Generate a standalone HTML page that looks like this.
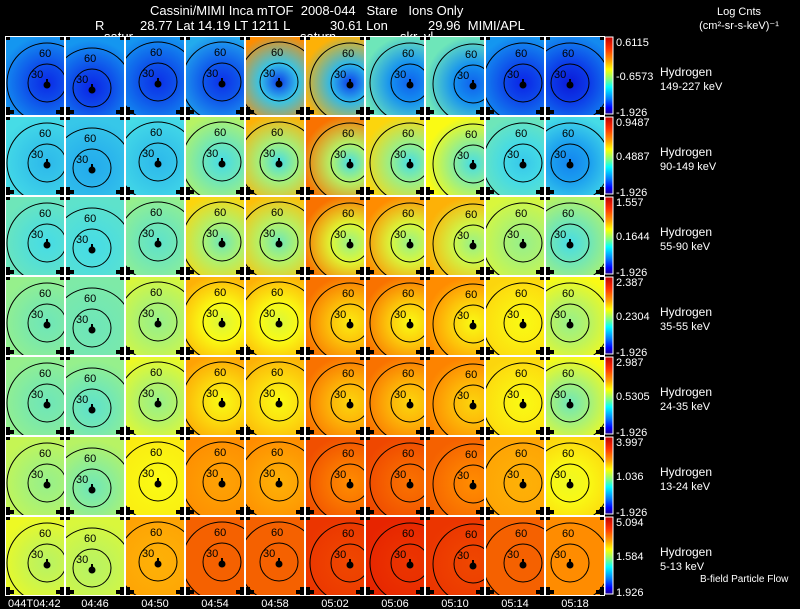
<!DOCTYPE html>
<html><head><meta charset="utf-8"><style>
html,body{margin:0;padding:0;background:#000;}
svg{display:block;font-family:"Liberation Sans",sans-serif;}
text{white-space:pre;}
</style></head><body>
<svg id="chart" width="800" height="609" viewBox="0 0 800 609" xmlns="http://www.w3.org/2000/svg">
<rect width="800" height="609" fill="#000"/>
<g fill="#fff" font-size="13">
<text x="150" y="15">Cassini/MIMI Inca mTOF  2008-044   Stare   Ions Only</text>
<text x="95" y="30">R</text>
<text x="140" y="30">28.77 Lat 14.19 LT 1211 L</text>
<text x="330" y="30">30.61 Lon</text>
<text x="428" y="30">29.96  MIMI/APL</text>
<text x="104" y="41">satur</text>
<text x="300" y="41">saturn</text>
<text x="400" y="41">skr..vl</text>
<text x="739" y="15" text-anchor="middle" font-size="11">Log Cnts</text>
<text x="739" y="29" text-anchor="middle" font-size="11">(cm²-sr-s-keV)⁻¹</text>
<text x="700" y="582" font-size="10">B-field Particle Flow</text>
</g>
<defs><linearGradient id="cbar" x1="0" y1="0" x2="0" y2="1">
<stop offset="0" stop-color="#c00000"/><stop offset="0.15" stop-color="#ff3000"/><stop offset="0.3" stop-color="#ff9a00"/><stop offset="0.42" stop-color="#ffff00"/><stop offset="0.55" stop-color="#80ff80"/><stop offset="0.65" stop-color="#00ffff"/><stop offset="0.8" stop-color="#0080ff"/><stop offset="0.92" stop-color="#0000ff"/><stop offset="1" stop-color="#200090"/>
</linearGradient></defs>
<g id="grid"></g>
</svg>
<script>
const centerVals=[
[0.17,0.16,0.18,0.18,0.2,0.2,0.26,0.26,0.16,0.13],
[0.4,0.38,0.4,0.45,0.45,0.45,0.45,0.45,0.42,0.32],
[0.45,0.45,0.48,0.5,0.5,0.55,0.55,0.55,0.55,0.45],
[0.5,0.5,0.55,0.65,0.65,0.72,0.7,0.7,0.7,0.55],
[0.5,0.48,0.55,0.7,0.7,0.75,0.75,0.75,0.7,0.5],
[0.55,0.5,0.7,0.82,0.8,0.85,0.88,0.85,0.8,0.68],
[0.6,0.6,0.8,0.9,0.9,0.93,0.95,0.93,0.9,0.85]];
const edgeVals=[
[0.35,0.35,0.35,0.38,0.85,0.8,0.5,0.5,0.35,0.33],
[0.45,0.42,0.45,0.6,0.8,0.88,0.75,0.7,0.5,0.45],
[0.5,0.48,0.55,0.75,0.78,0.88,0.85,0.8,0.65,0.6],
[0.55,0.52,0.65,0.8,0.8,0.88,0.88,0.85,0.75,0.7],
[0.55,0.55,0.68,0.82,0.8,0.88,0.88,0.86,0.75,0.7],
[0.62,0.6,0.72,0.85,0.85,0.92,0.93,0.9,0.82,0.75],
[0.68,0.65,0.82,0.9,0.9,0.95,0.97,0.95,0.9,0.85]];
const dotX=[42,27,33,37,34,45,45,48,38,25];
const dotY=[47,52,46,46,46,47,47,48,47,47];
const cbTop=["0.6115","0.9487","1.557","2.387","2.987","3.997","5.094"];
const cbMid=["-0.6573","0.4887","0.1644","0.2304","0.5305","1.036","1.584"];
const energies=["149-227 keV","90-149 keV","55-90 keV","35-55 keV","24-35 keV","13-24 keV","5-13 keV"];
const times=["044T04:42","04:46","04:50","04:54","04:58","05:02","05:06","05:10","05:14","05:18"];
const NS="http://www.w3.org/2000/svg";
const g=document.getElementById('grid');
const defs=document.querySelector('defs');
const X0=5,Y0=36,CW=60,RH=80;
const cx=c=>X0+c*CW, ry=r=>Y0+r*RH;
const stops=[[0,[20,0,120]],[0.15,[10,30,230]],[0.35,[20,150,240]],[0.45,[70,220,230]],[0.55,[150,240,140]],[0.7,[250,250,20]],[0.85,[255,140,0]],[1,[225,10,0]]];
function cmap(v){for(let i=1;i<stops.length;i++){if(v<=stops[i][0]){const a=stops[i-1],b=stops[i],t=(v-a[0])/(b[0]-a[0]);return 'rgb('+a[1].map((x,k)=>Math.round(x+(b[1][k]-x)*t)).join(',')+')';}}return 'rgb(225,10,0)';}
function el(t,a,p){const e=document.createElementNS(NS,t);for(const k in a)e.setAttribute(k,a[k]);(p||g).appendChild(e);return e;}
for(let r=0;r<7;r++){for(let c=0;c<10;c++){
 const x=cx(c),y=ry(r),px=x+dotX[c],py=y+dotY[c];
 const gid='gr'+r+'_'+c;
 const rg=el('radialGradient',{id:gid,gradientUnits:'userSpaceOnUse',cx:px,cy:py,r:48},defs);
 el('stop',{offset:0,'stop-color':cmap(centerVals[r][c])},rg);
 el('stop',{offset:0.4,'stop-color':cmap((centerVals[r][c]*2+edgeVals[r][c])/3)},rg);
 el('stop',{offset:1,'stop-color':cmap(edgeVals[r][c])},rg);
 const cp=el('clipPath',{id:'cp'+r+'_'+c},defs);
 el('rect',{x:x,y:y,width:CW,height:RH},cp);
 const cell=el('g',{'clip-path':'url(#cp'+r+'_'+c+')'});
 
 
 el('rect',{x:x,y:y,width:CW,height:RH,fill:'url(#'+gid+')'},cell);
 el('circle',{cx:px,cy:py,r:19,fill:'none',stroke:'#000','stroke-width':1},cell);
 el('circle',{cx:px,cy:py,r:40,fill:'none',stroke:'#000','stroke-width':1},cell);
 el('circle',{cx:px,cy:py+2,r:3.5,fill:'#000'},cell);
 el('rect',{x:px-1,y:py-4,width:2,height:3,fill:'#000'},cell);
 const t1=el('text',{x:px-16,y:py-5,'font-size':11,fill:'#000'},cell);t1.textContent='30';
 const t2=el('text',{x:px-8,y:py-26,'font-size':11,fill:'#000'},cell);t2.textContent='60';
 el('rect',{x:x,y:y+RH-9,width:5,height:9,fill:'#000'},cell);
 el('rect',{x:x,y:y+RH-6,width:9,height:4,fill:'#000'},cell);
 el('rect',{x:x+CW-5,y:y+RH-9,width:5,height:9,fill:'#000'},cell);
 el('rect',{x:x+CW-9,y:y+RH-6,width:9,height:4,fill:'#000'},cell);
 el('rect',{x:x,y:y,width:5,height:4,fill:'#000'},cell);
 el('rect',{x:x+CW-5,y:y,width:5,height:4,fill:'#000'},cell);
 el('rect',{x:x+0.5,y:y+0.5,width:CW-1,height:RH-1,fill:'none',stroke:'#fff','stroke-width':1},cell);
}
 const y=ry(r);
 const cb=el('rect',{x:605,y:y+1,width:8,height:RH-3,fill:'url(#cbar)',stroke:'#fff','stroke-width':1});
 
 
 const a=el('text',{x:616,y:y+10,'font-size':11,fill:'#fff'});a.textContent=cbTop[r];
 
 
 const m=el('text',{x:616,y:y+44,'font-size':11,fill:'#fff'});m.textContent=cbMid[r];
 
 
 const b=el('text',{x:616,y:y+80,'font-size':11,fill:'#fff'});b.textContent=(r==6?'1.926':'-1.926');
 
 
 const h=el('text',{x:660,y:y+40,'font-size':12,fill:'#fff'});h.textContent='Hydrogen';
 
 
 const e=el('text',{x:660,y:y+54,'font-size':11,fill:'#fff'});e.textContent=energies[r];
 
 
}
for(let c=0;c<10;c++){
 const t=el('text',{x:c==0?8:cx(c)+30,y:607,'font-size':11,fill:'#fff','text-anchor':c==0?'start':'middle'});
 t.textContent=times[c];
 
 
}
</script>
</body></html>
